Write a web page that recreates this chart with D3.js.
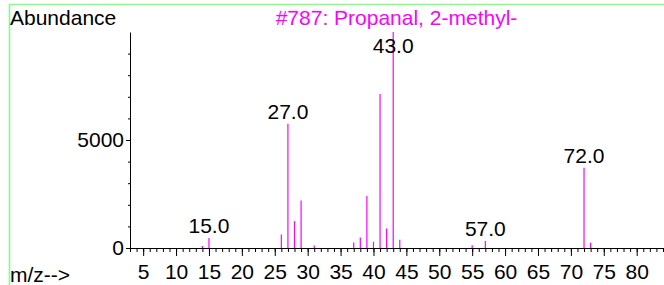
<!DOCTYPE html>
<html><head><meta charset="utf-8">
<script src="https://cdn.jsdelivr.net/npm/d3@7"></script>
<style>
html,body{margin:0;padding:0;background:#fff;}
svg{display:block;font-family:"Liberation Sans",Arial,sans-serif;}
</style></head>
<body>
<svg id="chart" width="664" height="285"></svg>
<script>
const mz = [14,15,26,27,28,29,31,37,38,39,40,41,42,43,44,55,57,72,73];
const abundance = [95,460,630,5750,1240,2200,120,260,490,2410,290,7130,900,9999,380,130,320,3720,240];
const labeledPeaks = [15,27,43,57,72];
const xMajorTicks = [5,10,15,20,25,30,35,40,45,50,55,60,65,70,75,80];
const yMajorTicks = [0,5000];
const yMinorTicks = [1000,2000,3000,4000,6000,7000,8000,9000];
const titleText = "#787: Propanal, 2-methyl-";

const svg = d3.select("#chart");
const x = d3.scaleLinear().domain([3,84]).range([130,663]);
const y = d3.scaleLinear().domain([0,10000]).range([248,32]);
const FS = 21;
const FF = "Liberation Sans, Arial, sans-serif";

// border
svg.append("line").attr("x1",9).attr("x2",664).attr("y1",4.5).attr("y2",4.5).attr("stroke","#80ff80").attr("stroke-width",1.6);
svg.append("line").attr("x1",9.5).attr("x2",9.5).attr("y1",4).attr("y2",285).attr("stroke","#80ff80").attr("stroke-width",1.6);

// x axis
const xMinor = d3.range(3,85);
svg.append("g").attr("transform",`translate(0,${y(0)})`)
  .call(d3.axisBottom(x).tickValues(xMinor).tickSize(4).tickFormat("").tickSizeOuter(0))
  .call(g=>{g.select(".domain").attr("stroke","#000");g.selectAll("line").attr("stroke","#000");});
svg.append("g").attr("transform",`translate(0,${y(0)})`)
  .call(d3.axisBottom(x).tickValues(xMajorTicks).tickSize(8).tickPadding(8).tickFormat(d3.format("d")).tickSizeOuter(0))
  .call(g=>{g.select(".domain").remove();g.selectAll("line").attr("stroke","#000");
    g.selectAll("text").attr("fill","#000").attr("font-size",FS).attr("font-family",FF);});

// y axis
svg.append("g").attr("transform",`translate(${x(3)},0)`)
  .call(d3.axisLeft(y).tickValues(yMinorTicks).tickSize(2).tickFormat("").tickSizeOuter(0))
  .call(g=>{g.select(".domain").attr("stroke","#000");g.selectAll("line").attr("stroke","#000");});
svg.append("g").attr("transform",`translate(${x(3)},0)`)
  .call(d3.axisLeft(y).tickValues(yMajorTicks).tickSize(4).tickPadding(2).tickFormat(d3.format("d")).tickSizeOuter(0))
  .call(g=>{g.select(".domain").remove();g.selectAll("line").attr("stroke","#000");
    g.selectAll("text").attr("fill","#000").attr("font-size",FS).attr("font-family",FF);});

// bars
const peaks = mz.map((m,i)=>({m, v: abundance[i]}));
svg.append("g").selectAll("line").data(peaks).join("line")
  .attr("x1",d=>x(d.m)).attr("x2",d=>x(d.m))
  .attr("y1",y(0)).attr("y2",d=>y(d.v))
  .attr("stroke","#ff00ff").attr("stroke-width",1.2);

// peak labels
svg.append("g").selectAll("text").data(peaks.filter(d=>labeledPeaks.includes(d.m))).join("text")
  .attr("x",d=>x(d.m)).attr("y",d=>Math.max(y(d.v)-5,53))
  .attr("text-anchor","middle").attr("font-size",FS).attr("fill","#000")
  .text(d=>d.m.toFixed(1));

// texts
svg.append("text").attr("x",10).attr("y",25).attr("font-size",FS).attr("fill","#000").text("Abundance");
svg.append("text").attr("x",(x(3)+x(84))/2).attr("y",25).attr("text-anchor","middle").attr("font-size",FS).attr("fill","#ff00ff").text(titleText);
svg.append("text").attr("x",10).attr("y",282).attr("font-size",FS).attr("fill","#000").text("m/z-->");
</script>
</body></html>
